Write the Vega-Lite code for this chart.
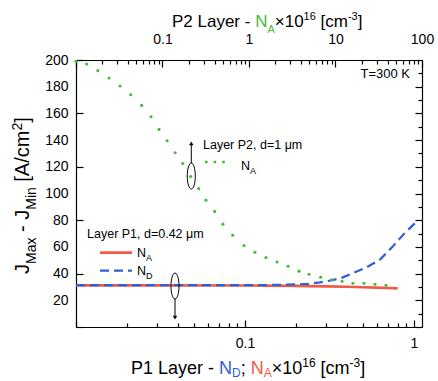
{
  "$schema": "https://vega.github.io/schema/vega-lite/v6.json",
  "width": 346,
  "height": 267,
  "autosize": "none",
  "padding": {"left": 76, "top": 60, "right": 16, "bottom": 54},
  "background": "white",
  "config": {
    "view": {"stroke": null},
    "font": "Liberation Sans",
    "text": {"font": "Liberation Sans"},
    "axis": {
      "domainColor": "#000", "tickColor": "#000", "labelColor": "#000",
      "labelFont": "Liberation Sans", "labelFontSize": 14, "grid": false,
      "domainWidth": 1.2, "tickWidth": 1.2, "title": null
    }
  },
  "resolve": {"scale": {"x": "independent"}, "axis": {"x": "independent", "y": "independent"}},
  "layer": [
    {
      "data": {"values": [{}]},
      "layer": [
        {
          "data": {"values": [
            {"x": 0.01, "j": 31.2}, {"x": 0.03, "j": 31.2}, {"x": 0.1, "j": 31.1}, {"x": 0.2, "j": 30.8},
            {"x": 0.3, "j": 30.4}, {"x": 0.4, "j": 30.1}, {"x": 0.5, "j": 29.8}, {"x": 0.6, "j": 29.5},
            {"x": 0.7, "j": 29.2}, {"x": 0.8, "j": 28.9}
          ]},
          "mark": {"type": "line", "color": "#f25a43", "strokeWidth": 2.6},
          "encoding": {
            "x": {"field": "x", "type": "quantitative",
              "scale": {"type": "log", "domain": [0.01, 1.115], "nice": false},
              "axis": {"orient": "bottom", "title": null, "labelOverlap": false, "labelFlush": false,
                "values": [0.01,0.02,0.03,0.04,0.05,0.06,0.07,0.08,0.09,0.1,0.2,0.3,0.4,0.5,0.6,0.7,0.8,0.9,1],
                "labelExpr": "datum.value == 0.1 ? '0.1' : datum.value == 1 ? '1' : ''",
                "tickSize": {"condition": {"test": "datum.value == 0.01 || datum.value == 0.1 || datum.value == 1", "value": -7}, "value": -4},
                "labelPadding": 16}},
            "y": {"field": "j", "type": "quantitative",
              "scale": {"domain": [0, 200], "nice": false, "zero": false},
              "axis": {"orient": "left", "title": null, "labels": false,
                "values": [0,10,20,30,40,50,60,70,80,90,100,110,120,130,140,150,160,170,180,190,200],
                "tickSize": {"condition": {"test": "datum.value % 20 == 0", "value": -7}, "value": -4}}}
          }
        },
        {
          "data": {"values": [
            {"x": 0.01, "j": 31.3}, {"x": 0.05, "j": 31.3}, {"x": 0.1, "j": 31.3}, {"x": 0.15, "j": 31.5},
            {"x": 0.2, "j": 31.9}, {"x": 0.236, "j": 32.3}, {"x": 0.278, "j": 33.4}, {"x": 0.326, "j": 35.0},
            {"x": 0.373, "j": 36.8}, {"x": 0.435, "j": 40.3}, {"x": 0.525, "j": 44.8}, {"x": 0.629, "j": 50.5},
            {"x": 0.751, "j": 60.5}, {"x": 0.885, "j": 70.6}, {"x": 1.01, "j": 77.6}
          ]},
          "mark": {"type": "line", "color": "#2f5fd6", "strokeWidth": 2.2, "strokeDash": [9, 5]},
          "encoding": {
            "x": {"field": "x", "type": "quantitative"},
            "y": {"field": "j", "type": "quantitative"}
          }
        },
        {"mark": {"type": "text", "text": "P1 Layer - ", "align": "left", "baseline": "alphabetic", "fontSize": 18, "color": "#000"},
         "encoding": {"x": {"datum": 0.02116, "type": "quantitative"}, "y": {"datum": -35.2, "type": "quantitative"}}},
        {"mark": {"type": "text", "text": "N", "align": "left", "baseline": "alphabetic", "fontSize": 18, "color": "#2f5fd6"},
         "encoding": {"x": {"datum": 0.07018, "type": "quantitative"}, "y": {"datum": -35.2, "type": "quantitative"}}},
        {"mark": {"type": "text", "text": "D", "align": "left", "baseline": "alphabetic", "fontSize": 12, "color": "#2f5fd6"},
         "encoding": {"x": {"datum": 0.08376, "type": "quantitative"}, "y": {"datum": -37.8, "type": "quantitative"}}},
        {"mark": {"type": "text", "text": ";", "align": "left", "baseline": "alphabetic", "fontSize": 18, "color": "#000"},
         "encoding": {"x": {"datum": 0.09431, "type": "quantitative"}, "y": {"datum": -35.2, "type": "quantitative"}}},
        {"mark": {"type": "text", "text": "N", "align": "left", "baseline": "alphabetic", "fontSize": 18, "color": "#f25a43"},
         "encoding": {"x": {"datum": 0.10807, "type": "quantitative"}, "y": {"datum": -35.2, "type": "quantitative"}}},
        {"mark": {"type": "text", "text": "A", "align": "left", "baseline": "alphabetic", "fontSize": 12, "color": "#f25a43"},
         "encoding": {"x": {"datum": 0.12899, "type": "quantitative"}, "y": {"datum": -37.8, "type": "quantitative"}}},
        {"mark": {"type": "text", "text": "×10", "align": "left", "baseline": "alphabetic", "fontSize": 18, "color": "#000"},
         "encoding": {"x": {"datum": 0.14387, "type": "quantitative"}, "y": {"datum": -35.2, "type": "quantitative"}}},
        {"mark": {"type": "text", "text": "16", "align": "left", "baseline": "alphabetic", "fontSize": 12, "color": "#000"},
         "encoding": {"x": {"datum": 0.21808, "type": "quantitative"}, "y": {"datum": -30.0, "type": "quantitative"}}},
        {"mark": {"type": "text", "text": "[cm", "align": "left", "baseline": "alphabetic", "fontSize": 18, "color": "#000"},
         "encoding": {"x": {"datum": 0.2797, "type": "quantitative"}, "y": {"datum": -35.2, "type": "quantitative"}}},
        {"mark": {"type": "text", "text": "-3", "align": "left", "baseline": "alphabetic", "fontSize": 12, "color": "#000"},
         "encoding": {"x": {"datum": 0.41531, "type": "quantitative"}, "y": {"datum": -30.0, "type": "quantitative"}}},
        {"mark": {"type": "text", "text": "]", "align": "left", "baseline": "alphabetic", "fontSize": 18, "color": "#000"},
         "encoding": {"x": {"datum": 0.48048, "type": "quantitative"}, "y": {"datum": -35.2, "type": "quantitative"}}},

        {"mark": {"type": "text", "text": "P2 Layer - ", "align": "left", "baseline": "alphabetic", "fontSize": 17, "color": "#000"},
         "encoding": {"x": {"datum": 0.03698, "type": "quantitative"}, "y": {"datum": 224.9, "type": "quantitative"}}},
        {"mark": {"type": "text", "text": "N", "align": "left", "baseline": "alphabetic", "fontSize": 17, "color": "#47b93c"},
         "encoding": {"x": {"datum": 0.11483, "type": "quantitative"}, "y": {"datum": 224.9, "type": "quantitative"}}},
        {"mark": {"type": "text", "text": "A", "align": "left", "baseline": "alphabetic", "fontSize": 11, "color": "#47b93c"},
         "encoding": {"x": {"datum": 0.13569, "type": "quantitative"}, "y": {"datum": 220.4, "type": "quantitative"}}},
        {"mark": {"type": "text", "text": "×10", "align": "left", "baseline": "alphabetic", "fontSize": 17, "color": "#000"},
         "encoding": {"x": {"datum": 0.15, "type": "quantitative"}, "y": {"datum": 224.9, "type": "quantitative"}}},
        {"mark": {"type": "text", "text": "16", "align": "left", "baseline": "alphabetic", "fontSize": 11, "color": "#000"},
         "encoding": {"x": {"datum": 0.22224, "type": "quantitative"}, "y": {"datum": 230.1, "type": "quantitative"}}},
        {"mark": {"type": "text", "text": "[cm", "align": "left", "baseline": "alphabetic", "fontSize": 17, "color": "#000"},
         "encoding": {"x": {"datum": 0.2799, "type": "quantitative"}, "y": {"datum": 224.9, "type": "quantitative"}}},
        {"mark": {"type": "text", "text": "-3", "align": "left", "baseline": "alphabetic", "fontSize": 11, "color": "#000"},
         "encoding": {"x": {"datum": 0.40652, "type": "quantitative"}, "y": {"datum": 230.1, "type": "quantitative"}}},
        {"mark": {"type": "text", "text": "]", "align": "left", "baseline": "alphabetic", "fontSize": 17, "color": "#000"},
         "encoding": {"x": {"datum": 0.46444, "type": "quantitative"}, "y": {"datum": 224.9, "type": "quantitative"}}},

        {"mark": {"type": "text", "text": "J", "align": "left", "baseline": "alphabetic", "fontSize": 20, "angle": 270, "color": "#000"},
         "encoding": {"x": {"datum": 0.00527, "type": "quantitative"}, "y": {"datum": 39.7, "type": "quantitative"}}},
        {"mark": {"type": "text", "text": "Max", "align": "left", "baseline": "alphabetic", "fontSize": 14, "angle": 270, "color": "#000"},
         "encoding": {"x": {"datum": 0.005798, "type": "quantitative"}, "y": {"datum": 47.2, "type": "quantitative"}}},
        {"mark": {"type": "text", "text": "- J", "align": "left", "baseline": "alphabetic", "fontSize": 20, "angle": 270, "color": "#000"},
         "encoding": {"x": {"datum": 0.00527, "type": "quantitative"}, "y": {"datum": 71.2, "type": "quantitative"}}},
        {"mark": {"type": "text", "text": "Min", "align": "left", "baseline": "alphabetic", "fontSize": 14, "angle": 270, "color": "#000"},
         "encoding": {"x": {"datum": 0.005798, "type": "quantitative"}, "y": {"datum": 87.8, "type": "quantitative"}}},
        {"mark": {"type": "text", "text": "[A/cm", "align": "left", "baseline": "alphabetic", "fontSize": 20, "angle": 270, "color": "#000"},
         "encoding": {"x": {"datum": 0.00527, "type": "quantitative"}, "y": {"datum": 108.8, "type": "quantitative"}}},
        {"mark": {"type": "text", "text": "2", "align": "left", "baseline": "alphabetic", "fontSize": 14, "angle": 270, "color": "#000"},
         "encoding": {"x": {"datum": 0.004792, "type": "quantitative"}, "y": {"datum": 147.2, "type": "quantitative"}}},
        {"mark": {"type": "text", "text": "]", "align": "left", "baseline": "alphabetic", "fontSize": 20, "angle": 270, "color": "#000"},
         "encoding": {"x": {"datum": 0.00527, "type": "quantitative"}, "y": {"datum": 153.0, "type": "quantitative"}}},

        {"mark": {"type": "text", "text": "T=300 K", "align": "right", "baseline": "alphabetic", "fontSize": 13, "color": "#000"},
         "encoding": {"x": {"datum": 0.947, "type": "quantitative"}, "y": {"datum": 186.5, "type": "quantitative"}}},
        {"mark": {"type": "text", "text": "Layer P2, d=1 μm", "align": "left", "baseline": "alphabetic", "fontSize": 12.5, "color": "#000"},
         "encoding": {"x": {"datum": 0.05642, "type": "quantitative"}, "y": {"datum": 133.3, "type": "quantitative"}}},
        {"mark": {"type": "text", "text": "N", "align": "left", "baseline": "alphabetic", "fontSize": 12.5, "color": "#000"},
         "encoding": {"x": {"datum": 0.0947, "type": "quantitative"}, "y": {"datum": 117.6, "type": "quantitative"}}},
        {"mark": {"type": "text", "text": "A", "align": "left", "baseline": "alphabetic", "fontSize": 9, "color": "#000"},
         "encoding": {"x": {"datum": 0.10705, "type": "quantitative"}, "y": {"datum": 114.6, "type": "quantitative"}}},
        {"mark": {"type": "rule", "color": "#47b93c", "strokeWidth": 2.6, "strokeDash": [2.6, 6]},
         "encoding": {"x": {"datum": 0.05798, "type": "quantitative"}, "x2": {"datum": 0.08263}, "y": {"datum": 123.6, "type": "quantitative"}}},

        {"mark": {"type": "text", "text": "Layer P1, d=0.42 μm", "align": "left", "baseline": "alphabetic", "fontSize": 12.5, "color": "#000"},
         "encoding": {"x": {"datum": 0.01162, "type": "quantitative"}, "y": {"datum": 66.7, "type": "quantitative"}}},
        {"mark": {"type": "rule", "color": "#f25a43", "strokeWidth": 2.6},
         "encoding": {"x": {"datum": 0.01387, "type": "quantitative"}, "x2": {"datum": 0.02145}, "y": {"datum": 55.7, "type": "quantitative"}}},
        {"mark": {"type": "text", "text": "N", "align": "left", "baseline": "alphabetic", "fontSize": 12.5, "color": "#000"},
         "encoding": {"x": {"datum": 0.02296, "type": "quantitative"}, "y": {"datum": 52.4, "type": "quantitative"}}},
        {"mark": {"type": "text", "text": "A", "align": "left", "baseline": "alphabetic", "fontSize": 9, "color": "#000"},
         "encoding": {"x": {"datum": 0.02596, "type": "quantitative"}, "y": {"datum": 49.4, "type": "quantitative"}}},
        {"mark": {"type": "rule", "color": "#2f5fd6", "strokeWidth": 2.2, "strokeDash": [9, 5]},
         "encoding": {"x": {"datum": 0.01387, "type": "quantitative"}, "x2": {"datum": 0.02145}, "y": {"datum": 42.2, "type": "quantitative"}}},
        {"mark": {"type": "text", "text": "N", "align": "left", "baseline": "alphabetic", "fontSize": 12.5, "color": "#000"},
         "encoding": {"x": {"datum": 0.02296, "type": "quantitative"}, "y": {"datum": 39.0, "type": "quantitative"}}},
        {"mark": {"type": "text", "text": "D", "align": "left", "baseline": "alphabetic", "fontSize": 9, "color": "#000"},
         "encoding": {"x": {"datum": 0.02596, "type": "quantitative"}, "y": {"datum": 36.0, "type": "quantitative"}}},

        {"mark": {"type": "point", "shape": "M0,-1A0.31,1 0 1,1 0,1A0.31,1 0 1,1 0,-1Z", "size": 676, "filled": false, "stroke": "#000", "strokeWidth": 1, "opacity": 1},
         "encoding": {"x": {"datum": 0.0481, "type": "quantitative"}, "y": {"datum": 113.1, "type": "quantitative"}}},
        {"mark": {"type": "rule", "color": "#000", "strokeWidth": 1},
         "encoding": {"x": {"datum": 0.0481, "type": "quantitative"}, "y": {"datum": 122.8, "type": "quantitative"}, "y2": {"datum": 136.3}}},
        {"mark": {"type": "point", "shape": "triangle-up", "size": 20, "filled": true, "color": "#000", "opacity": 1},
         "encoding": {"x": {"datum": 0.0481, "type": "quantitative"}, "y": {"datum": 137.5, "type": "quantitative"}}},
        {"mark": {"type": "point", "shape": "M0,-1A0.31,1 0 1,1 0,1A0.31,1 0 1,1 0,-1Z", "size": 676, "filled": false, "stroke": "#000", "strokeWidth": 1, "opacity": 1},
         "encoding": {"x": {"datum": 0.03853, "type": "quantitative"}, "y": {"datum": 30.7, "type": "quantitative"}}},
        {"mark": {"type": "rule", "color": "#000", "strokeWidth": 1},
         "encoding": {"x": {"datum": 0.03853, "type": "quantitative"}, "y": {"datum": 21.0, "type": "quantitative"}, "y2": {"datum": 8.2}}},
        {"mark": {"type": "point", "shape": "triangle-down", "size": 20, "filled": true, "color": "#000", "opacity": 1},
         "encoding": {"x": {"datum": 0.03853, "type": "quantitative"}, "y": {"datum": 7.0, "type": "quantitative"}}}
      ]
    },
    {
      "data": {"values": [
        {"x": 0.01, "j": 199}, {"x": 0.0133, "j": 197}, {"x": 0.0179, "j": 192}, {"x": 0.0241, "j": 186.5},
        {"x": 0.0323, "j": 180.5}, {"x": 0.0429, "j": 174}, {"x": 0.0575, "j": 166}, {"x": 0.0736, "j": 157.5},
        {"x": 0.0912, "j": 148}, {"x": 0.113, "j": 139.5}, {"x": 0.14, "j": 130.5}, {"x": 0.171, "j": 122.5},
        {"x": 0.212, "j": 112.7}, {"x": 0.262, "j": 103.7}, {"x": 0.318, "j": 95}, {"x": 0.401, "j": 86.6},
        {"x": 0.5, "j": 77}, {"x": 0.648, "j": 68.7}, {"x": 0.875, "j": 61}, {"x": 1.17, "j": 56},
        {"x": 1.57, "j": 52}, {"x": 2.11, "j": 48.7}, {"x": 2.83, "j": 45.5}, {"x": 3.79, "j": 41.8},
        {"x": 4.94, "j": 39.5}, {"x": 6.75, "j": 37.3}, {"x": 9.03, "j": 35.3}, {"x": 11.9, "j": 34.3},
        {"x": 15.9, "j": 32.8}, {"x": 21.3, "j": 32.8}, {"x": 28.6, "j": 32}, {"x": 38.4, "j": 31.3}
      ]},
      "mark": {"type": "point", "shape": "circle", "size": 10, "filled": true, "color": "#47b93c", "opacity": 1},
      "encoding": {
        "x": {"field": "x", "type": "quantitative",
          "scale": {"type": "log", "domain": [0.01, 100], "nice": false},
          "axis": {"orient": "top", "title": null, "labelOverlap": false, "labelFlush": false,
            "values": [0.01,0.02,0.03,0.04,0.05,0.06,0.07,0.08,0.09,0.1,0.2,0.3,0.4,0.5,0.6,0.7,0.8,0.9,1,2,3,4,5,6,7,8,9,10,20,30,40,50,60,70,80,90,100],
            "labelExpr": "datum.value == 0.1 ? '0.1' : datum.value == 1 ? '1' : datum.value == 10 ? '10' : datum.value == 100 ? '100' : ''",
            "tickSize": {"condition": {"test": "datum.value == 0.01 || datum.value == 0.1 || datum.value == 1 || datum.value == 10 || datum.value == 100", "value": -7}, "value": -4},
            "labelPadding": 21}},
        "y": {"field": "j", "type": "quantitative",
          "axis": {"orient": "right", "title": null, "labels": false,
            "values": [0,10,20,30,40,50,60,70,80,90,100,110,120,130,140,150,160,170,180,190,200],
            "tickSize": {"condition": {"test": "datum.value % 20 == 0", "value": -7}, "value": -4}}}
      }
    },
    {
      "data": {"values": [{}]},
      "mark": {"type": "point", "opacity": 0},
      "encoding": {
        "y": {"datum": 100, "type": "quantitative",
          "axis": {"orient": "left", "title": null, "domain": false, "ticks": false, "labelOverlap": false,
            "values": [20,40,60,80,100,120,140,160,180,200], "labelPadding": 8}}
      }
    }
  ]
}
